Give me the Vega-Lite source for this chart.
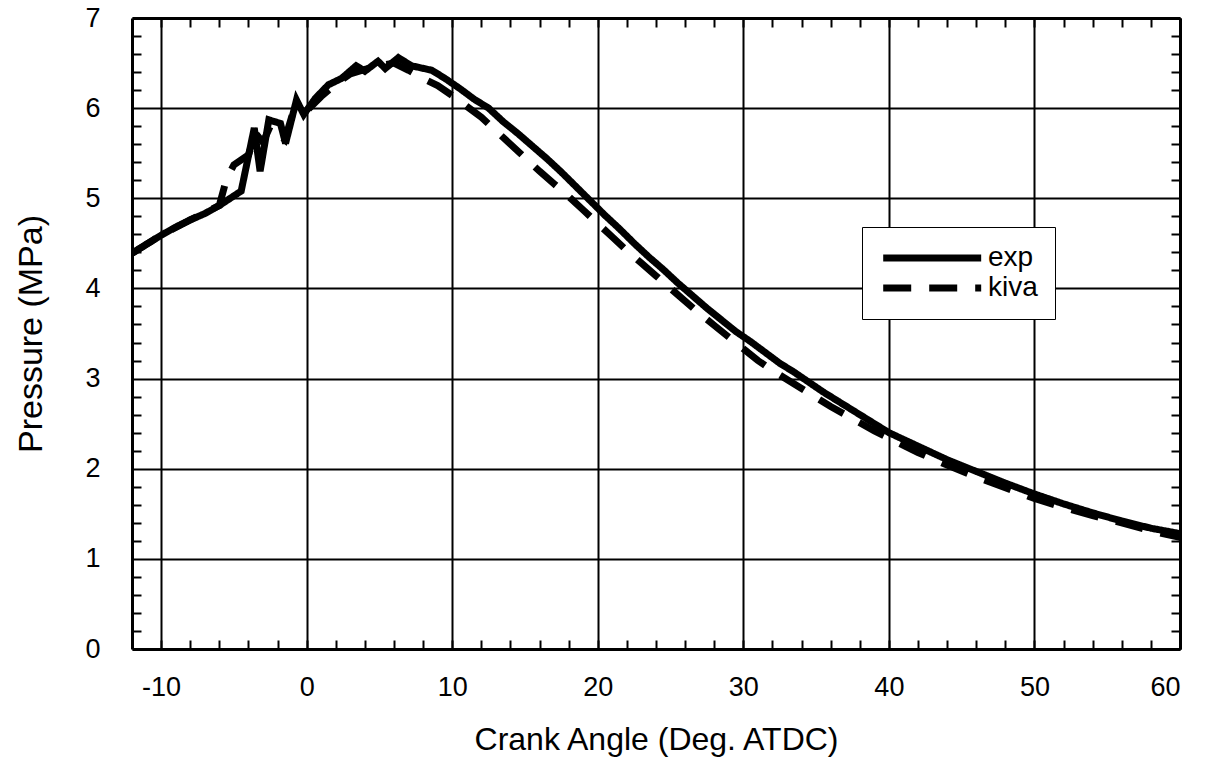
{
  "$schema": "https://vega.github.io/schema/vega-lite/v6.json",
  "width": 1048,
  "height": 631,
  "autosize": {"type": "none"},
  "padding": {"left": 132, "top": 18, "right": 28, "bottom": 112},
  "background": "white",
  "config": {
    "view": {"stroke": null},
    "font": "Liberation Sans",
    "axis": {"labelColor": "black", "titleColor": "black", "tickColor": "black", "domainColor": "black", "gridColor": "black", "gridOpacity": 1}
  },
  "data": {
    "values": [
      {"x": -12, "p": 4.39, "series": "exp"},
      {"x": -10, "p": 4.59, "series": "exp"},
      {"x": -9, "p": 4.68, "series": "exp"},
      {"x": -8, "p": 4.76, "series": "exp"},
      {"x": -7, "p": 4.83, "series": "exp"},
      {"x": -6, "p": 4.92, "series": "exp"},
      {"x": -4.5, "p": 5.08, "series": "exp"},
      {"x": -3.6, "p": 5.78, "series": "exp"},
      {"x": -3.2, "p": 5.3, "series": "exp"},
      {"x": -2.6, "p": 5.87, "series": "exp"},
      {"x": -1.8, "p": 5.83, "series": "exp"},
      {"x": -1.45, "p": 5.61, "series": "exp"},
      {"x": -0.7, "p": 6.09, "series": "exp"},
      {"x": -0.2, "p": 5.93, "series": "exp"},
      {"x": 0.6, "p": 6.11, "series": "exp"},
      {"x": 1.5, "p": 6.26, "series": "exp"},
      {"x": 2.4, "p": 6.33, "series": "exp"},
      {"x": 3.4, "p": 6.47, "series": "exp"},
      {"x": 4.0, "p": 6.41, "series": "exp"},
      {"x": 4.9, "p": 6.52, "series": "exp"},
      {"x": 5.4, "p": 6.44, "series": "exp"},
      {"x": 6.3, "p": 6.56, "series": "exp"},
      {"x": 7.2, "p": 6.47, "series": "exp"},
      {"x": 8.6, "p": 6.42, "series": "exp"},
      {"x": 9.5, "p": 6.33, "series": "exp"},
      {"x": 10.5, "p": 6.22, "series": "exp"},
      {"x": 11.5, "p": 6.1, "series": "exp"},
      {"x": 12.5, "p": 6.0, "series": "exp"},
      {"x": 13.5, "p": 5.85, "series": "exp"},
      {"x": 14.5, "p": 5.72, "series": "exp"},
      {"x": 15.5, "p": 5.58, "series": "exp"},
      {"x": 16.5, "p": 5.44, "series": "exp"},
      {"x": 17.5, "p": 5.29, "series": "exp"},
      {"x": 18.5, "p": 5.13, "series": "exp"},
      {"x": 19.5, "p": 4.97, "series": "exp"},
      {"x": 20.5, "p": 4.81, "series": "exp"},
      {"x": 21.5, "p": 4.66, "series": "exp"},
      {"x": 22.5, "p": 4.5, "series": "exp"},
      {"x": 23.5, "p": 4.35, "series": "exp"},
      {"x": 24.5, "p": 4.21, "series": "exp"},
      {"x": 25.5, "p": 4.06, "series": "exp"},
      {"x": 26.5, "p": 3.92, "series": "exp"},
      {"x": 27.5, "p": 3.78, "series": "exp"},
      {"x": 28.5, "p": 3.65, "series": "exp"},
      {"x": 29.5, "p": 3.52, "series": "exp"},
      {"x": 30.5, "p": 3.41, "series": "exp"},
      {"x": 31.5, "p": 3.29, "series": "exp"},
      {"x": 32.5, "p": 3.17, "series": "exp"},
      {"x": 33.5, "p": 3.07, "series": "exp"},
      {"x": 34.5, "p": 2.96, "series": "exp"},
      {"x": 35.5, "p": 2.85, "series": "exp"},
      {"x": 36.5, "p": 2.75, "series": "exp"},
      {"x": 37.5, "p": 2.65, "series": "exp"},
      {"x": 38.5, "p": 2.55, "series": "exp"},
      {"x": 40, "p": 2.4, "series": "exp"},
      {"x": 42, "p": 2.25, "series": "exp"},
      {"x": 44, "p": 2.1, "series": "exp"},
      {"x": 46, "p": 1.97, "series": "exp"},
      {"x": 48, "p": 1.84, "series": "exp"},
      {"x": 50, "p": 1.72, "series": "exp"},
      {"x": 52, "p": 1.61, "series": "exp"},
      {"x": 54, "p": 1.51, "series": "exp"},
      {"x": 56, "p": 1.42, "series": "exp"},
      {"x": 58, "p": 1.34, "series": "exp"},
      {"x": 60, "p": 1.28, "series": "exp"},
      {"x": -12, "p": 4.39, "series": "kiva"},
      {"x": -10, "p": 4.59, "series": "kiva"},
      {"x": -8, "p": 4.76, "series": "kiva"},
      {"x": -6, "p": 4.92, "series": "kiva"},
      {"x": -5.5, "p": 5.22, "series": "kiva"},
      {"x": -5, "p": 5.37, "series": "kiva"},
      {"x": -4, "p": 5.48, "series": "kiva"},
      {"x": -3.5, "p": 5.72, "series": "kiva"},
      {"x": -3, "p": 5.62, "series": "kiva"},
      {"x": -2.5, "p": 5.8, "series": "kiva"},
      {"x": -2, "p": 5.72, "series": "kiva"},
      {"x": -1.5, "p": 5.65, "series": "kiva"},
      {"x": -1, "p": 5.92, "series": "kiva"},
      {"x": 0, "p": 5.97, "series": "kiva"},
      {"x": 1, "p": 6.13, "series": "kiva"},
      {"x": 2, "p": 6.27, "series": "kiva"},
      {"x": 3, "p": 6.38, "series": "kiva"},
      {"x": 4, "p": 6.43, "series": "kiva"},
      {"x": 5, "p": 6.47, "series": "kiva"},
      {"x": 6, "p": 6.5, "series": "kiva"},
      {"x": 7, "p": 6.42, "series": "kiva"},
      {"x": 8, "p": 6.33, "series": "kiva"},
      {"x": 9, "p": 6.25, "series": "kiva"},
      {"x": 10, "p": 6.14, "series": "kiva"},
      {"x": 11, "p": 6.02, "series": "kiva"},
      {"x": 12, "p": 5.9, "series": "kiva"},
      {"x": 13, "p": 5.75, "series": "kiva"},
      {"x": 14, "p": 5.6, "series": "kiva"},
      {"x": 15, "p": 5.45, "series": "kiva"},
      {"x": 16, "p": 5.3, "series": "kiva"},
      {"x": 17, "p": 5.16, "series": "kiva"},
      {"x": 18, "p": 5.02, "series": "kiva"},
      {"x": 19, "p": 4.87, "series": "kiva"},
      {"x": 20, "p": 4.72, "series": "kiva"},
      {"x": 21, "p": 4.57, "series": "kiva"},
      {"x": 22, "p": 4.42, "series": "kiva"},
      {"x": 23, "p": 4.28, "series": "kiva"},
      {"x": 24, "p": 4.14, "series": "kiva"},
      {"x": 25, "p": 4.0, "series": "kiva"},
      {"x": 26, "p": 3.86, "series": "kiva"},
      {"x": 27, "p": 3.72, "series": "kiva"},
      {"x": 28, "p": 3.59, "series": "kiva"},
      {"x": 29, "p": 3.46, "series": "kiva"},
      {"x": 30, "p": 3.33, "series": "kiva"},
      {"x": 31, "p": 3.2, "series": "kiva"},
      {"x": 32, "p": 3.09, "series": "kiva"},
      {"x": 33, "p": 2.99, "series": "kiva"},
      {"x": 34, "p": 2.89, "series": "kiva"},
      {"x": 35, "p": 2.79, "series": "kiva"},
      {"x": 36, "p": 2.69, "series": "kiva"},
      {"x": 37, "p": 2.6, "series": "kiva"},
      {"x": 38, "p": 2.51, "series": "kiva"},
      {"x": 39, "p": 2.42, "series": "kiva"},
      {"x": 40, "p": 2.34, "series": "kiva"},
      {"x": 42, "p": 2.18, "series": "kiva"},
      {"x": 44, "p": 2.04, "series": "kiva"},
      {"x": 46, "p": 1.91, "series": "kiva"},
      {"x": 48, "p": 1.79, "series": "kiva"},
      {"x": 50, "p": 1.67, "series": "kiva"},
      {"x": 52, "p": 1.57, "series": "kiva"},
      {"x": 54, "p": 1.48, "series": "kiva"},
      {"x": 56, "p": 1.4, "series": "kiva"},
      {"x": 58, "p": 1.31, "series": "kiva"},
      {"x": 60, "p": 1.24, "series": "kiva"}
    ]
  },
  "resolve": {"axis": {"x": "independent", "y": "independent"}},
  "layer": [
    {
      "mark": {"type": "point", "opacity": 0},
      "encoding": {
        "x": {"field": "x", "type": "quantitative", "scale": {"domain": [-12, 60], "nice": false, "zero": false},
          "axis": {"orient": "bottom", "values": [-10, 0, 10, 20, 30, 40, 50, 60], "grid": true, "gridWidth": 2, "ticks": false, "domain": true, "domainWidth": 3, "labelFontSize": 27, "labelPadding": 25, "labelExpr": "'' + datum.value", "title": "Crank Angle (Deg. ATDC)", "titleFontSize": 32, "titleFontWeight": "normal", "titlePadding": 24, "zindex": 0}},
        "y": {"field": "p", "type": "quantitative", "scale": {"domain": [0, 7], "nice": false, "zero": true},
          "axis": {"orient": "left", "values": [0, 1, 2, 3, 4, 5, 6, 7], "grid": true, "gridWidth": 2, "ticks": false, "domain": true, "domainWidth": 3, "labelFontSize": 27, "labelPadding": 32, "title": "Pressure (MPa)", "titleFontSize": 34, "titleFontWeight": "normal", "titlePadding": 36, "zindex": 0}}
      }
    },
    {
      "mark": {"type": "point", "opacity": 0},
      "encoding": {
        "x": {"field": "x", "type": "quantitative",
          "axis": {"orient": "bottom", "values": [-10, -8, -6, -4, -2, 0, 2, 4, 6, 8, 10, 12, 14, 16, 18, 20, 22, 24, 26, 28, 30, 32, 34, 36, 38, 40, 42, 44, 46, 48, 50, 52, 54, 56, 58, 60], "grid": false, "labels": false, "domain": false, "ticks": true, "tickSize": -9, "tickWidth": 2, "title": null}},
        "y": {"field": "p", "type": "quantitative",
          "axis": {"orient": "left", "values": [0.2, 0.4, 0.6, 0.8, 1.2, 1.4, 1.6, 1.8, 2.2, 2.4, 2.6, 2.8, 3.2, 3.4, 3.6, 3.8, 4.2, 4.4, 4.6, 4.8, 5.2, 5.4, 5.6, 5.8, 6.2, 6.4, 6.6, 6.8], "grid": false, "labels": false, "domain": false, "ticks": true, "tickSize": -9, "tickWidth": 2, "title": null}}
      }
    },
    {
      "mark": {"type": "point", "opacity": 0},
      "encoding": {
        "x": {"field": "x", "type": "quantitative",
          "axis": {"orient": "top", "values": [-10, -8, -6, -4, -2, 0, 2, 4, 6, 8, 10, 12, 14, 16, 18, 20, 22, 24, 26, 28, 30, 32, 34, 36, 38, 40, 42, 44, 46, 48, 50, 52, 54, 56, 58, 60], "grid": false, "labels": false, "domain": true, "domainWidth": 3, "ticks": true, "tickSize": -9, "tickWidth": 2, "title": null}},
        "y": {"field": "p", "type": "quantitative",
          "axis": {"orient": "right", "values": [0.2, 0.4, 0.6, 0.8, 1.2, 1.4, 1.6, 1.8, 2.2, 2.4, 2.6, 2.8, 3.2, 3.4, 3.6, 3.8, 4.2, 4.4, 4.6, 4.8, 5.2, 5.4, 5.6, 5.8, 6.2, 6.4, 6.6, 6.8], "grid": false, "labels": false, "domain": true, "domainWidth": 3, "ticks": true, "tickSize": -9, "tickWidth": 2, "title": null}}
      }
    },
    {
      "mark": {"type": "line", "color": "black", "strokeWidth": 7, "strokeCap": "butt", "clip": true},
      "encoding": {
        "x": {"field": "x", "type": "quantitative", "axis": null},
        "y": {"field": "p", "type": "quantitative", "axis": null},
        "strokeDash": {"field": "series", "type": "nominal",
          "scale": {"domain": ["exp", "kiva"], "range": [[1, 0], [28, 18]]},
          "legend": {"orient": "none", "legendX": 730, "legendY": 209, "title": null, "fillColor": "white", "strokeColor": "black", "padding": 17, "symbolType": "M-1,0H9", "symbolSize": 384, "symbolStrokeWidth": 7, "symbolStrokeColor": "black", "symbolFillColor": "transparent", "labelFontSize": 28, "labelColor": "black", "labelOffset": 81, "rowPadding": 2}}
      }
    }
  ]
}
